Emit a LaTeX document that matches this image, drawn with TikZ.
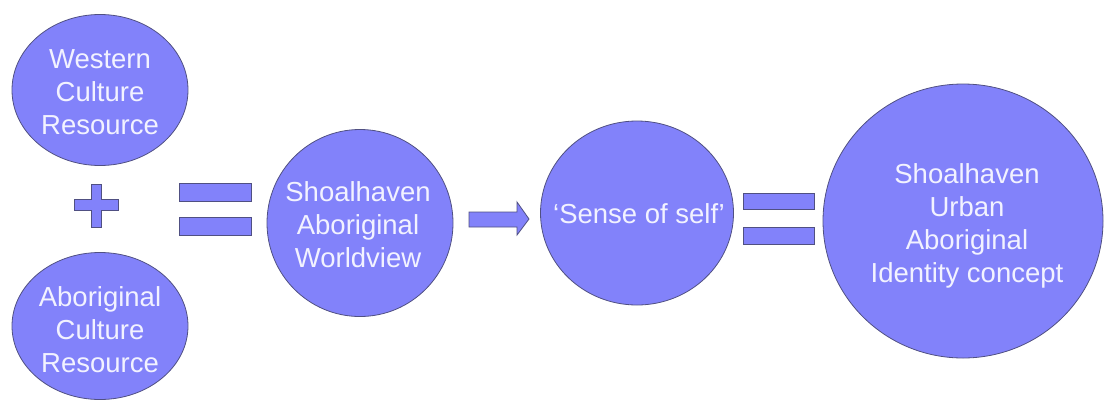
\documentclass[tikz,border=0pt]{standalone}
\usepackage{fontspec}
\setmainfont{Liberation Sans}
\usetikzlibrary{shapes.geometric}
\definecolor{blobfill}{RGB}{130,130,250}
\definecolor{blobline}{RGB}{80,80,130}
\definecolor{blobtext}{RGB}{242,242,255}
\begin{document}
\begin{tikzpicture}[x=1pt,y=-1pt,
  blob/.style={ellipse,draw=blobline,fill=blobfill,line width=0.8pt,inner sep=0pt},
  lbl/.style={text=blobtext,align=center,inner sep=0pt,font=\fontsize{27.5}{33}\selectfont},
  bar/.style={draw=blobline,fill=blobfill,line width=0.8pt}]
\useasboundingbox (0,0) rectangle (1105,400);
\node[blob,minimum width=176,minimum height=151] (wcr) at (100,90) {};
\node[lbl] (wcrt) at (100,92) {Western\\Culture\\Resource};
\node[blob,minimum width=176,minimum height=147] (acr) at (100,326) {};
\node[lbl] (acrt) at (100,330) {Aboriginal\\Culture\\Resource};
\node[blob,minimum width=186,minimum height=187] (saw) at (360,223) {};
\node[lbl] (sawt) at (358,225) {Shoalhaven\\Aboriginal\\Worldview};
\node[blob,minimum width=193,minimum height=184] (sos) at (637,213) {};
\node[lbl] (sost) at (639,214) {`Sense of self'};
\node[blob,minimum width=280,minimum height=274] (suai) at (963,221) {};
\node[lbl] (suait) at (967,226) {Shoalhaven\\Urban\\Aboriginal\\Identity concept};
% plus sign
\draw[bar] (74,199) -- (91,199) -- (91,184) -- (101,184) -- (101,199) -- (118,199)
  -- (118,210) -- (101,210) -- (101,227) -- (91,227) -- (91,210) -- (74,210) -- cycle;
% first equals sign
\draw[bar] (179,183) rectangle (251,201);
\draw[bar] (179,217) rectangle (251,235);
% block arrow from worldview to sense of self
\draw[bar] (469,212) -- (517,212) -- (517,202) -- (529,219) -- (517,235) -- (517,227) -- (469,227) -- cycle;
% second equals sign
\draw[bar] (743,193) rectangle (814,209);
\draw[bar] (743,227) rectangle (814,244);
\end{tikzpicture}
\end{document}
